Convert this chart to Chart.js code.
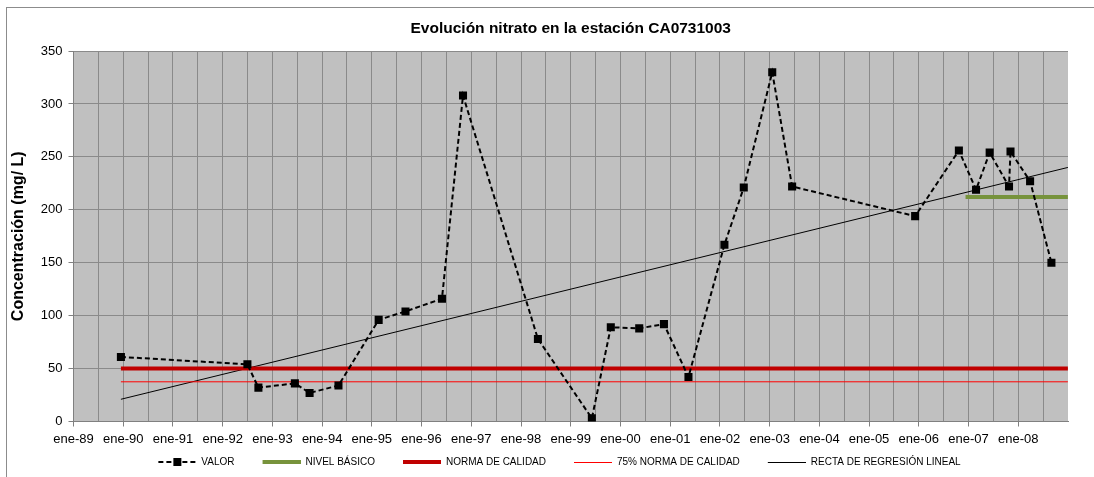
<!DOCTYPE html>
<html lang="es">
<head>
<meta charset="UTF-8">
<title>Evolución nitrato CA0731003</title>
<script src="https://cdn.jsdelivr.net/npm/chart.js"></script>
<style>
  html, body { margin: 0; padding: 0; background: #fff; }
  #caja { width: 1094px; height: 477px; }
</style>
</head>
<body>
<div id="caja"><canvas id="grafico" width="1094" height="477"></canvas></div>

<script>
// muestras de nitrato (mg/L)
const fechas = ['1989-12-15', '1992-07-01', '1992-09-20', '1993-06-15', '1993-10-01', '1994-05-01',
                '1995-02-20', '1995-09-05', '1996-05-30', '1996-11-01', '1998-05-05', '1999-06-05',
                '1999-10-22', '2000-05-18', '2000-11-16', '2001-05-15', '2002-02-03', '2002-06-25',
                '2003-01-20', '2003-06-15', '2005-12-05', '2006-10-22', '2007-02-25', '2007-06-05',
                '2007-10-25', '2007-11-05', '2008-03-28', '2008-09-01'];
const valores = [61, 54, 32, 36, 27, 34,
                 96, 104, 116, 308, 78, 3,
                 89, 88, 92, 42, 167, 221,
                 330, 222, 194, 256, 219, 254,
                 222, 255, 227, 150];

// niveles de referencia
const nivelFechas = ['2006-12-10', '2008-12-31'];
const nivelBasico = 212;
const normaFechas = ['1989-12-15', '2008-12-31'];
const normaCalidad = 50;
const norma75 = 37.5;
const regresionFechas = ['1989-12-15', '2008-12-31'];
const regresionValores = [21, 240];

const etiquetas = ['VALOR', 'NIVEL BÁSICO', 'NORMA DE CALIDAD', '75% NORMA DE CALIDAD', 'RECTA DE REGRESIÓN LINEAL'];
const anioIni = 1989, anioFin = 2009;

function anioDecimal(f) {
    const [a, m, d] = f.split('-').map(Number);
    const ini = Date.UTC(a, 0, 1), fin = Date.UTC(a + 1, 0, 1);
    return a + (Date.UTC(a, m - 1, d) - ini) / (fin - ini);
}

function puntos(fs, vs) {
    return fs.map((f, i) => ({x: anioDecimal(f), y: Array.isArray(vs) ? vs[i] : vs}));
}

// simbolos de la leyenda (hueco a la izquierda para separar los elementos)
function simbolo(tipo) {
    const c = document.createElement('canvas');
    c.width = 56; c.height = 10;
    const g = c.getContext('2d');
    const x0 = 18, x1 = 56, y = 5;
    g.beginPath();
    if (tipo === 'valor') {
        g.setLineDash([5, 3]);
        g.lineWidth = 2; g.strokeStyle = '#000';
    } else if (tipo === 'nivel') {
        g.lineWidth = 4; g.strokeStyle = '#77933c';
    } else if (tipo === 'norma') {
        g.lineWidth = 4; g.strokeStyle = '#c00000';
    } else if (tipo === 'n75') {
        g.lineWidth = 1; g.strokeStyle = '#ff0000';
    } else {
        g.lineWidth = 1; g.strokeStyle = '#000';
    }
    const yy = g.lineWidth % 2 ? y + 0.5 : y;
    g.moveTo(x0, yy); g.lineTo(x1, yy); g.stroke();
    if (tipo === 'valor') {
        g.fillStyle = '#000';
        g.fillRect(x0 + 15, y - 4, 8, 8);
    }
    return c;
}
const simbolos = ['valor', 'nivel', 'norma', 'n75', 'recta'].map(simbolo);

const fondo = {
    id: 'fondo',
    beforeDraw(chart) {
        const {ctx, chartArea: a} = chart;
        ctx.save();
        ctx.fillStyle = '#c0c0c0';
        ctx.fillRect(a.left, a.top, a.right - a.left, a.bottom - a.top);
        ctx.strokeStyle = '#8c8c8c';
        ctx.lineWidth = 1;
        ctx.strokeRect(6.5, 7.5, 1200, 600);
        ctx.restore();
    }
};

const fuente = "'Liberation Sans', Arial, sans-serif";

const ctx = document.getElementById('grafico').getContext('2d');
const grafico = new Chart(ctx, {
    type: 'line',
    data: {
        datasets: [{
            label: etiquetas[0],
            data: puntos(fechas, valores),
            borderColor: '#000',
            borderWidth: 2,
            borderDash: [5, 3],
            pointStyle: 'rect',
            pointRadius: 5.7,
            pointBackgroundColor: '#000',
            pointBorderColor: '#000',
            pointBorderWidth: 0,
            tension: 0
        }, {
            label: etiquetas[1],
            data: puntos(nivelFechas, nivelBasico),
            borderColor: '#77933c',
            borderWidth: 4,
            pointRadius: 0
        }, {
            label: etiquetas[2],
            data: puntos(normaFechas, normaCalidad),
            borderColor: '#c00000',
            borderWidth: 4,
            pointRadius: 0
        }, {
            label: etiquetas[3],
            data: puntos(normaFechas, norma75),
            borderColor: '#ff0000',
            borderWidth: 1,
            pointRadius: 0
        }, {
            label: etiquetas[4],
            data: puntos(regresionFechas, regresionValores),
            borderColor: '#000',
            borderWidth: 1,
            pointRadius: 0
        }]
    },
    options: {
        responsive: false,
        animation: false,
        devicePixelRatio: 1,
        layout: { padding: { left: 33, right: 26, top: 0, bottom: 0 } },
        plugins: {
            tooltip: { enabled: false },
            title: {
                display: true,
                fullSize: false,
                text: 'Evolución nitrato en la estación CA0731003',
                color: '#000',
                font: { family: fuente, size: 15.5, weight: 'bold' },
                padding: { top: 19, bottom: 13.4 }
            },
            legend: {
                position: 'bottom',
                fullSize: true,
                labels: {
                    usePointStyle: true,
                    pointStyleWidth: 56,
                    padding: 10,
                    color: '#000',
                    font: { family: fuente, size: 10 },
                    generateLabels: (chart) => chart.data.datasets.map((ds, i) => ({
                        text: ds.label,
                        pointStyle: simbolos[i],
                        fillStyle: 'transparent',
                        strokeStyle: 'transparent',
                        lineWidth: 0,
                        fontColor: '#000',
                        hidden: false,
                        datasetIndex: i
                    }))
                }
            }
        },
        scales: {
            x: {
                type: 'linear',
                min: anioIni,
                max: anioFin,
                afterFit: (s) => { s.height = 25.5; },
                border: { color: '#808080', width: 1 },
                grid: {
                    color: (c) => c.tick && c.tick.value === anioFin ? 'transparent' : '#8a8a8a',
                    tickColor: (c) => c.tick && Number.isInteger(c.tick.value) && c.tick.value < anioFin ? '#808080' : 'transparent',
                    tickLength: 5
                },
                ticks: {
                    stepSize: 0.5,
                    autoSkip: false,
                    maxRotation: 0,
                    padding: 5,
                    color: '#000',
                    font: { family: fuente, size: 13 },
                    callback: (v) => (Number.isInteger(v) && v < anioFin) ? 'ene-' + String(v).slice(2) : ''
                }
            },
            y: {
                min: 0,
                max: 350,
                afterFit: (s) => { s.width = 40.5; },
                border: { color: '#808080', width: 1 },
                grid: { color: '#8a8a8a', tickColor: '#808080', tickLength: 5 },
                ticks: {
                    stepSize: 50,
                    padding: 6,
                    color: '#000',
                    font: { family: fuente, size: 13 }
                },
                title: {
                    display: true,
                    text: 'Concentración (mg/ L)',
                    color: '#000',
                    font: { family: fuente, size: 16, weight: 'bold' },
                    padding: { top: -23.6, bottom: 0 }
                }
            }
        }
    },
    plugins: [fondo]
});
</script>
</body>
</html>
